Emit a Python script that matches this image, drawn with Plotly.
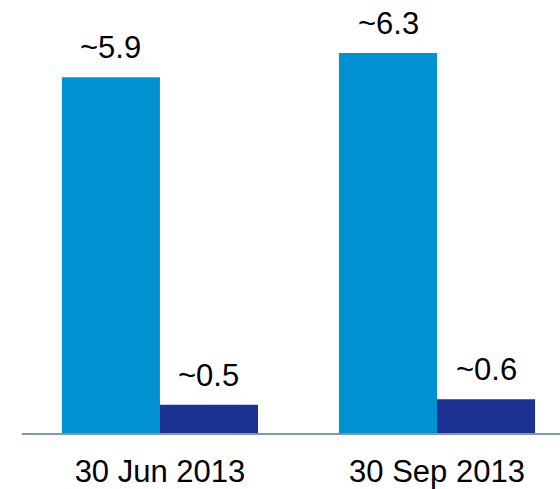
"""
막대 차트 재현
"""
import plotly.graph_objects as go

# 데이터
categories = ['30 Jun 2013', '30 Sep 2013']
series_a = [5.9, 6.3]
series_b = [0.47, 0.56]
labels_a = ['~5.9', '~6.3']
labels_b = ['~0.5', '~0.6']

LIGHT = '#0091D0'
DARK = '#1B3293'
FONT = 'Liberation Sans, Arial, sans-serif'
FSIZE = 31

fig = go.Figure()
fig.add_trace(go.Bar(x=categories, y=series_a, marker=dict(color=LIGHT, line=dict(width=0)),
                     name='A'))
fig.add_trace(go.Bar(x=categories, y=series_b, marker=dict(color=DARK, line=dict(width=0)),
                     name='B'))

# 값 라벨
for cat, val, txt in zip(categories, series_a, labels_a):
    fig.add_annotation(x=cat, y=val, text=txt, showarrow=False, yanchor='bottom',
                       xshift=-49, yshift=10, font=dict(size=FSIZE, color='black', family=FONT))
for cat, val, txt in zip(categories, series_b, labels_b):
    fig.add_annotation(x=cat, y=val, text=txt, showarrow=False, yanchor='bottom',
                       xshift=49, yshift=10, font=dict(size=FSIZE, color='black', family=FONT))

fig.update_layout(
    width=560, height=489,
    margin=dict(l=22, r=0, t=0, b=56),
    barmode='group', bargap=0.292, bargroupgap=0,
    showlegend=False,
    plot_bgcolor='white', paper_bgcolor='white',
    font=dict(family=FONT, size=FSIZE, color='black'),
)
fig.update_xaxes(range=[-0.498, 1.444], showline=True, linecolor='#8197AE', linewidth=2,
                 showgrid=False, ticks='outside', ticklen=10, tickcolor='rgba(0,0,0,0)',
                 tickfont=dict(size=FSIZE, family=FONT, color='black'))
fig.update_yaxes(range=[0, 7.18], visible=False, showgrid=False, zeroline=False)

fig.write_html("out.html", config={'displayModeBar': False},
               post_script="document.body.style.margin='0';")
